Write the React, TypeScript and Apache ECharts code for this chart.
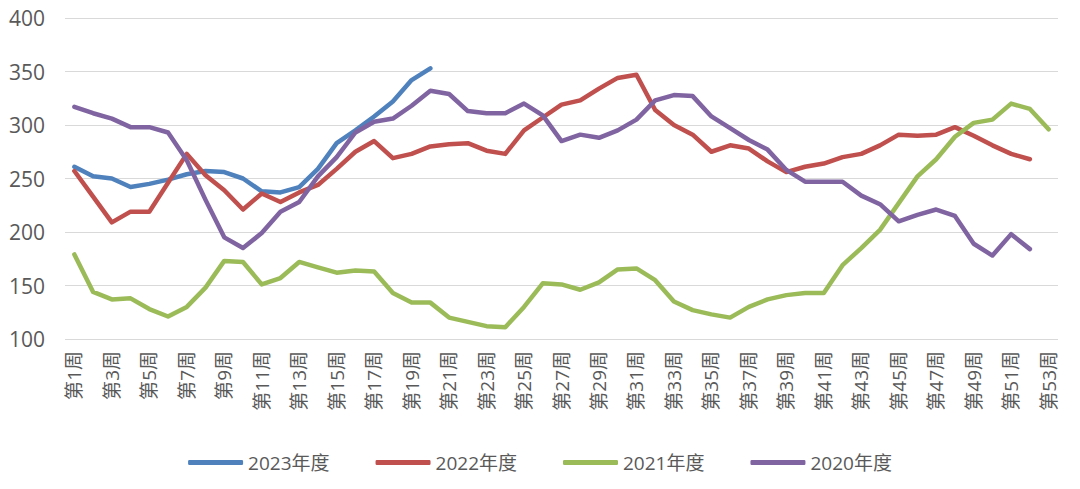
import React, { useEffect, useRef } from "react";
import * as echarts from "echarts";

const weeks: string[] = Array.from({ length: 53 }, (_, i) => `第${i + 1}周`);

const s2023: (number | null)[] = [261, 252, 250, 242, 245, 249, 254, 257, 256, 250, 238, 237, 242, 259, 283, 295, 308, 322, 342, 353];
const s2022: (number | null)[] = [257, 233, 209, 219, 219, 246, 273, 253, 239, 221, 236, 228, 237, 244, 259, 275, 285, 269, 273, 280, 282, 283, 276, 273, 295, 307, 319, 323, 334, 344, 347, 314, 300, 291, 275, 281, 278, 266, 256, 261, 264, 270, 273, 281, 291, 290, 291, 298, 290, 281, 273, 268];
const s2021: (number | null)[] = [179, 144, 137, 138, 128, 121, 130, 148, 173, 172, 151, 157, 172, 167, 162, 164, 163, 143, 134, 134, 120, 116, 112, 111, 130, 152, 151, 146, 153, 165, 166, 155, 135, 127, 123, 120, 130, 137, 141, 143, 143, 169, 185, 202, 227, 252, 268, 289, 302, 305, 320, 315, 296];
const s2020: (number | null)[] = [317, 311, 306, 298, 298, 293, 267, 230, 195, 185, 199, 219, 228, 252, 270, 293, 303, 306, 318, 332, 329, 313, 311, 311, 320, 309, 285, 291, 288, 295, 305, 323, 328, 327, 308, 297, 286, 277, 258, 247, 247, 247, 234, 226, 210, 216, 221, 215, 189, 178, 198, 184];

const seriesNames = ["2023年度", "2022年度", "2021年度", "2020年度"];
const seriesColors = ["#4F81BD", "#C0504D", "#9BBB59", "#8064A2"];
const seriesData = [s2023, s2022, s2021, s2020];

const yTicks = { min: 100, max: 400, interval: 50 };

export default function App() {
  const ref = useRef<HTMLDivElement>(null);
  useEffect(() => {
    if (!ref.current) return;
    const chart = echarts.init(ref.current, null, { renderer: "svg" });
    const font = "'Open Sans', 'Noto Sans CJK SC', sans-serif";
    chart.setOption({
      animation: false,
      backgroundColor: "#ffffff",
      grid: { left: 65, right: 22, top: 18, bottom: 150, containLabel: false },
      legend: {
        bottom: 12,
        left: "center",
        icon: "roundRect",
        itemWidth: 55,
        itemHeight: 5,
        itemGap: 46,
        textStyle: { fontSize: 19, color: "#595959", fontFamily: font },
        data: seriesNames,
      },
      xAxis: {
        type: "category",
        data: weeks,
        boundaryGap: true,
        axisLine: { show: false },
        axisTick: { show: false },
        axisLabel: {
          interval: 1,
          rotate: 90,
          fontSize: 19,
          color: "#595959",
          fontFamily: font,
          margin: 12,
        },
      },
      yAxis: {
        type: "value",
        min: yTicks.min,
        max: yTicks.max,
        interval: yTicks.interval,
        axisLine: { show: false },
        axisTick: { show: false },
        axisLabel: { fontSize: 21, color: "#595959", fontFamily: font, margin: 20 },
        splitLine: { lineStyle: { color: "#d9d9d9", width: 1 } },
      },
      series: seriesNames.map((name, i) => ({
        name,
        type: "line",
        data: seriesData[i],
        showSymbol: false,
        symbol: "none",
        lineStyle: { width: 4.5, color: seriesColors[i], cap: "round", join: "round" },
        itemStyle: { color: seriesColors[i] },
      })),
    });
    return () => chart.dispose();
  }, []);
  return (
    <div
      ref={ref}
      style={{ position: "fixed", left: 0, top: 0, width: 1080, height: 489 }}
    />
  );
}
